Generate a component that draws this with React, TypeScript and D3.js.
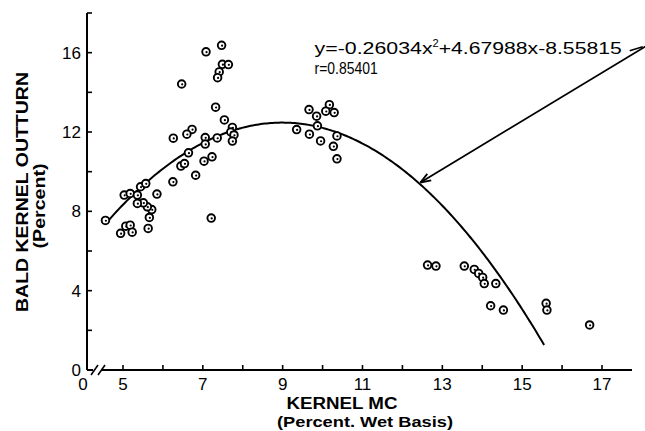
import React from 'react';
import * as d3 from 'd3';

const moisture = [
  4.56, 4.94, 5.07, 5.18, 5.23, 5.63, 5.66, 5.72, 5.61, 5.51, 5.36, 5.03, 5.18, 5.36, 5.44, 5.57, 5.85,
  6.25, 6.82, 6.45, 6.54, 7.03, 7.23, 7.21, 6.64,
  7.47, 7.08, 7.49, 7.64, 7.41, 7.37, 6.47, 7.32, 7.54, 7.74, 7.70, 7.78, 7.74, 7.06, 7.36, 7.06, 6.73, 6.6, 6.26,
  9.66, 10.17, 10.08, 10.29, 9.85, 9.87, 9.35, 9.67, 9.95, 10.36, 10.27, 10.36,
  12.63, 12.84, 13.55, 13.8, 13.91, 14.01, 14.05, 14.34, 14.21, 14.53, 15.6, 15.62, 16.69,
];
const outturn = [
  7.54, 6.89, 7.25, 7.3, 6.95, 7.14, 7.69, 8.09, 8.23, 8.43, 8.4, 8.82, 8.9, 8.82, 9.24, 9.4, 8.87,
  9.49, 9.82, 10.28, 10.41, 10.53, 10.75, 7.66, 10.95,
  16.37, 16.04, 15.41, 15.4, 15.03, 14.74, 14.42, 13.25, 12.61, 12.23, 12.0, 11.85, 11.54, 11.72, 11.7, 11.39, 12.13, 11.89, 11.69,
  13.13, 13.38, 13.05, 12.98, 12.8, 12.31, 12.12, 11.89, 11.55, 11.8, 11.28, 10.65,
  5.29, 5.24, 5.24, 5.07, 4.87, 4.67, 4.36, 4.36, 3.24, 3.02, 3.36, 3.02, 2.27,
];

const xTicks = [5, 6, 7, 8, 9, 10, 11, 12, 13, 14, 15, 16, 17];
const xTickLabels = [5, 7, 9, 11, 13, 15, 17];
const yTicks = [2, 4, 6, 8, 10, 12, 14, 16, 18];
const yTickLabels = [0, 4, 8, 12, 16];

const coefA = -0.26034;
const coefB = 4.67988;
const coefC = -8.55815;
const curveStart = 4.55;
const curveEnd = 15.58;
const arrowTipX = 12.45;

const equationMain = 'y=-0.26034x';
const equationRest = '+4.67988x-8.55815';
const rText = 'r=0.85401';

export default function App() {
  const W = 645;
  const H = 431;
  const x = d3.scaleLinear().domain([5, 17]).range([123, 602]);
  const y = d3.scaleLinear().domain([0, 18]).range([370, 13]);
  const fit = (v: number) => coefA * v * v + coefB * v + coefC;

  const axisY = y(0);
  const axisLeft = x.invert(87);
  const axisRight = x.invert(632);

  const curvePts = d3.range(curveStart, curveEnd + 0.001, 0.05).map((v) => [v, fit(v)] as [number, number]);
  const line = d3
    .line<[number, number]>()
    .x((d) => x(d[0]))
    .y((d) => y(d[1]))
    .curve(d3.curveLinear);

  const tipX = x(arrowTipX);
  const tipY = y(fit(arrowTipX)) - 2;
  const tailX = x(18.2);
  const tailY = y(16.45);
  const ang = Math.atan2(tailY - tipY, tailX - tipX);
  const ah = 11;
  const spread = 0.35;

  const textX = x(9.8);
  const line1Y = y(15.95);
  const line2Y = y(14.9);

  const font = "'Liberation Sans', Arial, sans-serif";
  const yAxisPx = x(axisLeft);

  return (
    <svg
      width={W}
      height={H}
      style={{ position: 'absolute', left: 0, top: 0, background: '#fff' }}
      fontFamily={font}
    >
      <rect width={W} height={H} fill="#fff" />
      {/* Y axis */}
      <line x1={yAxisPx} x2={yAxisPx} y1={y(18)} y2={axisY} stroke="#000" strokeWidth={2} />
      {yTicks.map((t) => (
        <line key={'yt' + t} x1={yAxisPx} x2={yAxisPx + 5} y1={y(t)} y2={y(t)} stroke="#000" strokeWidth={1.6} />
      ))}
      {yTickLabels.map((t) => (
        <text key={'yl' + t} x={yAxisPx - 6} y={y(t)} dy="0.36em" textAnchor="end" fontSize={17}>
          {t}
        </text>
      ))}
      {/* X axis with break */}
      <line x1={yAxisPx} x2={yAxisPx + 6} y1={axisY} y2={axisY} stroke="#000" strokeWidth={2} />
      <line x1={yAxisPx + 4} x2={yAxisPx + 11} y1={axisY + 5} y2={axisY - 5} stroke="#000" strokeWidth={1.6} />
      <line x1={yAxisPx + 11} x2={yAxisPx + 18} y1={axisY + 5} y2={axisY - 5} stroke="#000" strokeWidth={1.6} />
      <line x1={yAxisPx + 15} x2={x(axisRight)} y1={axisY} y2={axisY} stroke="#000" strokeWidth={2} />
      {xTicks.map((t) => (
        <line key={'xt' + t} x1={x(t)} x2={x(t)} y1={axisY} y2={axisY - 5} stroke="#000" strokeWidth={1.6} />
      ))}
      {xTickLabels.map((t) => (
        <text key={'xl' + t} x={x(t)} y={axisY + 20} textAnchor="middle" fontSize={17}>
          {t}
        </text>
      ))}
      <text x={yAxisPx - 4} y={axisY + 20} textAnchor="middle" fontSize={17}>
        0
      </text>
      {/* Axis titles */}
      <text x={342} y={409} textAnchor="middle" fontSize={16} fontWeight="bold" textLength={111} lengthAdjust="spacingAndGlyphs">
        KERNEL MC
      </text>
      <text x={365} y={427} textAnchor="middle" fontSize={15} fontWeight="bold" textLength={176} lengthAdjust="spacingAndGlyphs">
        (Percent. Wet Basis)
      </text>
      <text
        transform={`translate(28,192) rotate(-90)`}
        textAnchor="middle"
        fontSize={17}
        fontWeight="bold"
        textLength={240}
        lengthAdjust="spacingAndGlyphs"
      >
        BALD KERNEL OUTTURN
      </text>
      <text
        transform={`translate(45,206) rotate(-90)`}
        textAnchor="middle"
        fontSize={16}
        fontWeight="bold"
        textLength={85}
        lengthAdjust="spacingAndGlyphs"
      >
        (Percent)
      </text>
      {/* Regression curve */}
      <path d={line(curvePts) || ''} fill="none" stroke="#000" strokeWidth={2} />
      {/* Points */}
      {moisture.map((m, i) => (
        <g key={'p' + i}>
          <circle cx={x(m)} cy={y(outturn[i])} r={3.8} fill="#fff" stroke="#000" strokeWidth={1.9} />
          <circle cx={x(m) + 0.5} cy={y(outturn[i]) + 0.3} r={1.1} fill="#000" />
        </g>
      ))}
      {/* Equation annotation */}
      <text x={textX} y={line1Y} fontSize={17}>
        <tspan textLength={118} lengthAdjust="spacingAndGlyphs">{equationMain}</tspan>
        <tspan dy={-7} fontSize={11}>2</tspan>
        <tspan dy={7} textLength={183} lengthAdjust="spacingAndGlyphs">{equationRest}</tspan>
      </text>
      <text transform={`translate(${textX},${line2Y}) scale(0.82,1)`} fontSize={17}>
        {rText}
      </text>
      <line x1={x(18.02) - 13} y1={line1Y - 3} x2={x(18.02)} y2={line1Y - 7} stroke="#000" strokeWidth={1.6} />
      <line x1={tipX} y1={tipY} x2={tailX} y2={tailY} stroke="#000" strokeWidth={1.8} />
      <line
        x1={tipX}
        y1={tipY}
        x2={tipX + ah * Math.cos(ang + spread)}
        y2={tipY + ah * Math.sin(ang + spread)}
        stroke="#000"
        strokeWidth={1.8}
      />
      <line
        x1={tipX}
        y1={tipY}
        x2={tipX + ah * Math.cos(ang - spread)}
        y2={tipY + ah * Math.sin(ang - spread)}
        stroke="#000"
        strokeWidth={1.8}
      />
    </svg>
  );
}
